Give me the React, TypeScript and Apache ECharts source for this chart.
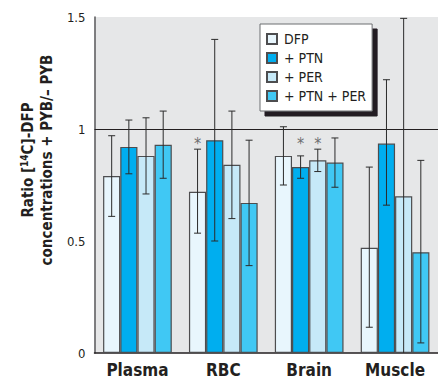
import React, { useEffect, useRef } from "react";
import * as echarts from "echarts";

const categories = ["Plasma", "RBC", "Brain", "Muscle"];
const seriesNames = ["DFP", "+ PTN", "+ PER", "+ PTN + PER"];
const dfp = [0.79, 0.72, 0.88, 0.47];
const ptn = [0.92, 0.95, 0.83, 0.935];
const per = [0.88, 0.84, 0.86, 0.7];
const ptnPer = [0.93, 0.67, 0.85, 0.45];
const dfpLow = [0.61, 0.535, 0.75, 0.115];
const dfpHigh = [0.97, 0.91, 1.01, 0.83];
const ptnLow = [0.8, 0.5, 0.78, 0.66];
const ptnHigh = [1.04, 1.4, 0.88, 1.22];
const perLow = [0.71, 0.6, 0.81, -0.09];
const perHigh = [1.05, 1.08, 0.91, 1.494];
const ppLow = [0.78, 0.39, 0.74, 0.045];
const ppHigh = [1.08, 0.95, 0.96, 0.86];
const dfpStar = [0, 1, 0, 0];
const ptnStar = [0, 0, 1, 0];
const perStar = [0, 0, 1, 0];
const ppStar = [0, 0, 0, 0];
const yTicks = [0, 0.5, 1, 1.5];

const colors = ["#e8f6fd", "#00aeef", "#c6e9f8", "#40c8f4"];
const FONT = "'Liberation Sans Narrow', 'Arial Narrow', 'DejaVu Sans Condensed', sans-serif";

export default function App() {
  const ref = useRef<HTMLDivElement>(null);
  useEffect(() => {
    document.body.style.margin = "0";
    if (!ref.current) return;
    const chart = echarts.init(ref.current, null, { renderer: "svg" });
    const values = [dfp, ptn, per, ptnPer];
    const lows = [dfpLow, ptnLow, perLow, ppLow];
    const highs = [dfpHigh, ptnHigh, perHigh, ppHigh];
    const stars = [dfpStar, ptnStar, perStar, ppStar];
    const errData: number[][] = [];
    for (let s = 0; s < 4; s++) {
      for (let c = 0; c < categories.length; c++) {
        errData.push([c, s, lows[s][c], highs[s][c], stars[s][c]]);
      }
    }
    const barSeries = values.map((v, i) => ({
      type: "bar",
      name: seriesNames[i],
      data: v,
      barGap: "0%",
      barCategoryGap: "20%",
      itemStyle: { color: colors[i], borderColor: "#4d4d4f", borderWidth: 1.2 },
      markLine:
        i === 0
          ? {
              silent: true,
              symbol: "none",
              label: { show: false },
              lineStyle: { color: "#231f20", width: 1, type: "solid" },
              data: [{ yAxis: 1 }],
              z: 1,
            }
          : undefined,
    }));
    chart.setOption({
      animation: false,
      grid: {
        left: 94.5,
        right: -8,
        top: 17,
        bottom: 25,
        show: true,
        backgroundColor: "#e6e7e8",
        borderWidth: 0,
      },
      legend: {
        orient: "vertical",
        left: 260,
        top: 24,
        data: seriesNames,
        icon: "rect",
        itemWidth: 10,
        itemHeight: 10,
        itemGap: 5,
        padding: [8, 6, 8, 6],
        backgroundColor: "#ffffff",
        borderColor: "#6d6e71",
        borderWidth: 1,
        shadowColor: "#231f20",
        shadowBlur: 0,
        shadowOffsetX: 5,
        shadowOffsetY: 5,
        textStyle: { fontFamily: FONT, fontSize: 14, color: "#231f20", padding: [0, 0, 0, 2] },
        selectedMode: false,
      },
      xAxis: {
        type: "category",
        data: categories,
        axisLine: { lineStyle: { color: "#231f20", width: 1.5 } },
        axisTick: { show: false },
        axisLabel: {
          fontFamily: FONT,
          fontWeight: "bold",
          fontSize: 17,
          color: "#231f20",
          margin: 8,
        },
      },
      yAxis: {
        type: "value",
        min: 0,
        max: 1.5,
        interval: 0.5,
        axisLine: { show: true, lineStyle: { color: "#58595b", width: 1.5 } },
        axisTick: { show: false },
        splitLine: { show: false },
        axisLabel: {
          fontFamily: FONT,
          fontSize: 13,
          color: "#231f20",
          margin: 9,
          formatter: (v: number) => (yTicks.includes(v) ? String(v) : ""),
        },
      },
      graphic: [
        {
          type: "text",
          x: 28,
          y: 160,
          rotation: Math.PI / 2,
          style: {
            text: "Ratio [{sup|14}C]-DFP",
            font: `bold 15px ${FONT}`,
            fill: "#231f20",
            align: "center",
            verticalAlign: "middle",
            rich: {
              sup: { fontSize: 10, fontWeight: "bold", fontFamily: FONT, padding: [0, 0, 7, 0], fill: "#231f20" },
            },
          },
        },
        {
          type: "text",
          x: 47,
          y: 160,
          rotation: Math.PI / 2,
          style: {
            text: "concentrations + PYB/– PYB",
            font: `bold 15px ${FONT}`,
            fill: "#231f20",
            align: "center",
            verticalAlign: "middle",
          },
        },
      ],
      series: [
        ...barSeries,
        {
          type: "custom",
          clip: true,
          silent: true,
          z: 5,
          data: errData,
          encode: { x: 0, y: 3 },
          renderItem: (params: any, api: any) => {
            const cat = api.value(0);
            const s = api.value(1);
            const lo = api.value(2);
            const hi = api.value(3);
            const star = api.value(4);
            const bandW = api.size([1, 0])[0];
            const barW = (bandW * 0.8) / 4;
            const cx = api.coord([cat, 0])[0] + (s - 1.5) * barW;
            const yTop = api.coord([cat, hi])[1];
            const yBot = api.coord([cat, lo])[1];
            const half = 3.5;
            const st = { stroke: "#2b2b2b", lineWidth: 1 };
            const children: any[] = [
              { type: "line", shape: { x1: cx, y1: yTop, x2: cx, y2: yBot }, style: st },
              { type: "line", shape: { x1: cx - half, y1: yTop, x2: cx + half, y2: yTop }, style: st },
              { type: "line", shape: { x1: cx - half, y1: yBot, x2: cx + half, y2: yBot }, style: st },
            ];
            if (star) {
              const ys = api.coord([cat, 0.95])[1];
              children.push({
                type: "text",
                style: {
                  x: cx,
                  y: ys + 3,
                  text: "*",
                  font: `16px ${FONT}`,
                  fill: "#6d6e71",
                  align: "center",
                  verticalAlign: "middle",
                },
              });
            }
            return { type: "group", children };
          },
        },
      ],
    });
    return () => chart.dispose();
  }, []);
  return <div ref={ref} style={{ width: 438, height: 378 }} />;
}
